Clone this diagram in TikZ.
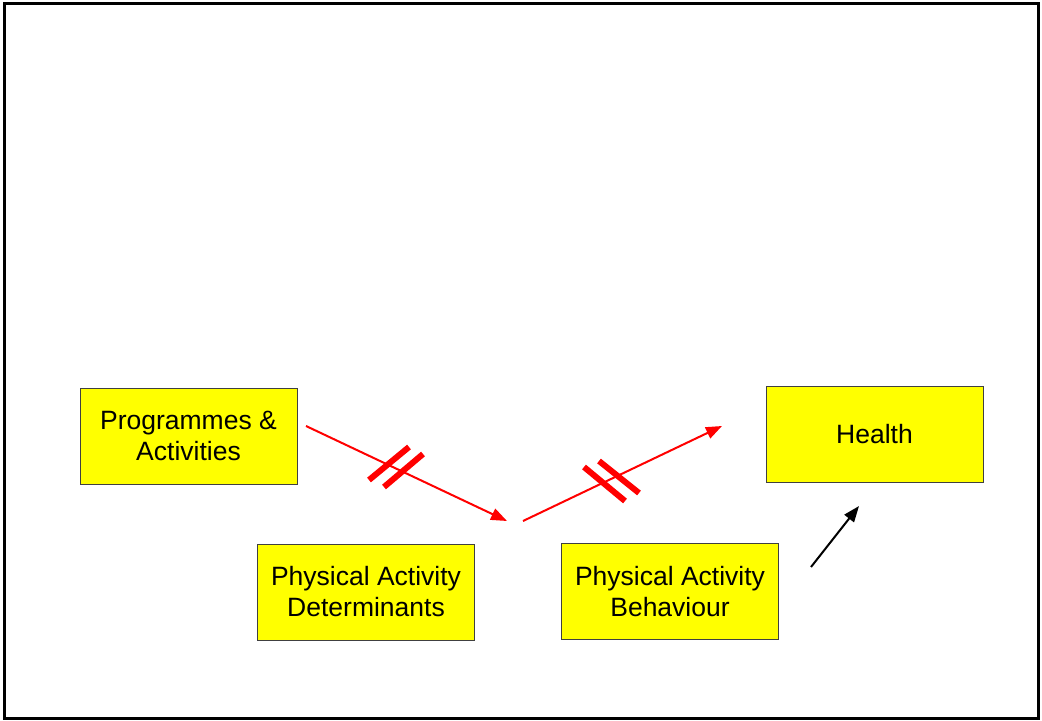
\documentclass[tikz,border=0pt]{standalone}
\usepackage{fontspec}
\setmainfont{Liberation Sans}
\usetikzlibrary{arrows.meta}
\usetikzlibrary{positioning}
\definecolor{boxyellow}{RGB}{255,255,0}
\definecolor{linkred}{RGB}{255,0,0}

\begin{document}
\begin{tikzpicture}[x=0.5pt, y=-0.5pt,
    box/.style={draw=black!75, line width=0.5pt, fill=boxyellow, minimum width=108.5pt,
      minimum height=48pt, align=center, font=\fontsize{13.25}{15.5}\selectfont},
    link/.style={linkred, line width=1pt, -{Triangle[length=8pt, width=6pt]}},
    cut/.style={linkred, line width=3pt}]
          \useasboundingbox (0,0) rectangle (1042,721);
          \draw[line width=1.5pt] (4,4) rectangle (1038,718);

          \node[box] (prog) at (188.5,436) {Programmes \&\\Activities};
          \node[box] (det) at (366,592) {Physical Activity\\Determinants};
          \node[box] (beh) at (670,591.5) {Physical Activity\\Behaviour};
          \node[box] (hlth) at (874.5,434.5) {Health};

          \coordinate (p1) at (306,426);
          \coordinate (p2) at (507,521);
          \coordinate (p3) at (523,521);
          \coordinate (p4) at (722,426);
          \coordinate (b1) at (811,567);
          \coordinate (b2) at (859,506);

          \draw[link] (p1) -- (p2);
          \draw[link] (p3) -- (p4);
          \draw[black, line width=1pt, -{Triangle[length=8pt, width=6pt]}] (b1) -- (b2);

          \draw[cut] (369,480) -- (409,447);
          \draw[cut] (384,487) -- (423,454);
          \draw[cut] (584,467) -- (625,501);
          \draw[cut] (599,461) -- (639,493);
        \end{tikzpicture}
\end{document}
